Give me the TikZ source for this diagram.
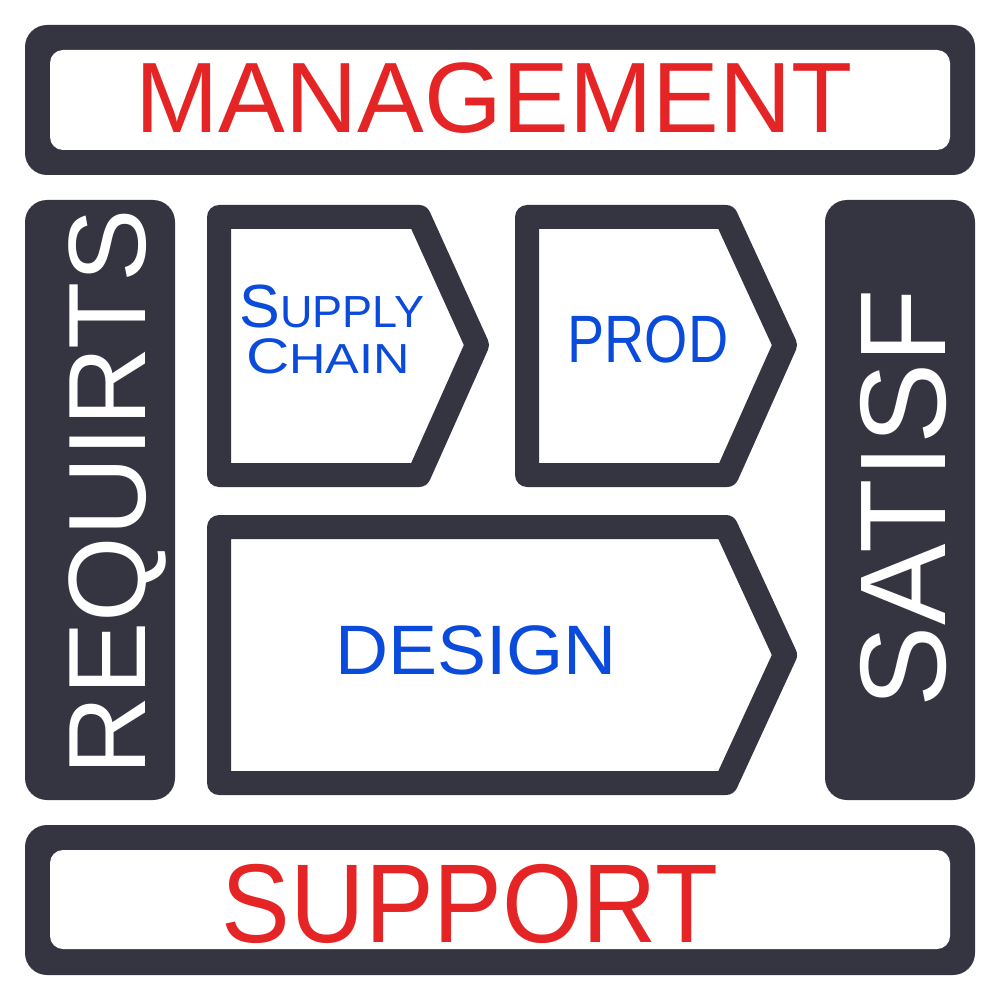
\documentclass[tikz,border=0pt]{standalone}
\usepackage{fontspec}
\setmainfont{Liberation Sans}
\definecolor{dark}{RGB}{53,53,65}
\definecolor{redtxt}{RGB}{229,37,37}
\definecolor{bluetxt}{RGB}{10,75,220}
\tikzset{
  panel/.style={fill=dark, rounded corners=22pt},
  inner/.style={fill=white, rounded corners=13pt},
  chevron/.style={draw=dark, fill=white, line width=24pt, line join=round},
  redlabel/.style={text=redtxt, inner sep=0pt, anchor=base},
  bluelabel/.style={text=bluetxt, inner sep=0pt, anchor=base},
  whitelabel/.style={text=white, inner sep=0pt, anchor=base, rotate=90}
}
\begin{document}
\begin{tikzpicture}[x=1pt, y=-1pt]
\useasboundingbox (0,0) rectangle (1000,1000);
\fill[white] (0,0) rectangle (1000,1000);
% top bar
\path[panel] (25,25) rectangle (975,175);
\path[inner] (50,50) rectangle (950,150);
\node[redlabel] (mgmt) at (494,133) {\fontsize{100}{100}\selectfont MANAGEMENT};
% bottom bar
\path[panel] (25,825) rectangle (975,975);
\path[inner] (50,850) rectangle (950,949);
\node[redlabel, xscale=0.92] (supp) at (470,942) {\fontsize{112}{112}\selectfont SUPPORT};
% side panels
\path[panel] (25,200) rectangle (175,800);
\path[panel] (825,200) rectangle (975,800);
\node[whitelabel] (req) at (145,492) {\fontsize{110}{110}\selectfont REQUIRTS};
\node[whitelabel] (sat) at (945,498) {\fontsize{122}{122}\selectfont SATISF};
% chevrons
\draw[chevron] (219,217) -- (419,217) -- (477,345) -- (419,475) -- (219,475) -- cycle;
\draw[chevron] (527,217) -- (726,217) -- (785,345) -- (727,475) -- (527,475) -- cycle;
\draw[chevron] (219,527) -- (726,527) -- (785,655) -- (726,783) -- (219,783) -- cycle;
\node[bluelabel] (sc1) at (332,327) {\fontsize{61}{61}\selectfont S\fontsize{45}{45}\selectfont UPPLY};
\node[bluelabel, xscale=1.2] (sc2) at (328,373) {\fontsize{50}{50}\selectfont C\fontsize{42}{42}\selectfont HAIN};
\node[bluelabel, xscale=0.83] (prod) at (648,362) {\fontsize{67}{67}\selectfont PROD};
\node[bluelabel, xscale=1.05] (design) at (476,674) {\fontsize{70}{70}\selectfont DESIGN};
\end{tikzpicture}
\end{document}
